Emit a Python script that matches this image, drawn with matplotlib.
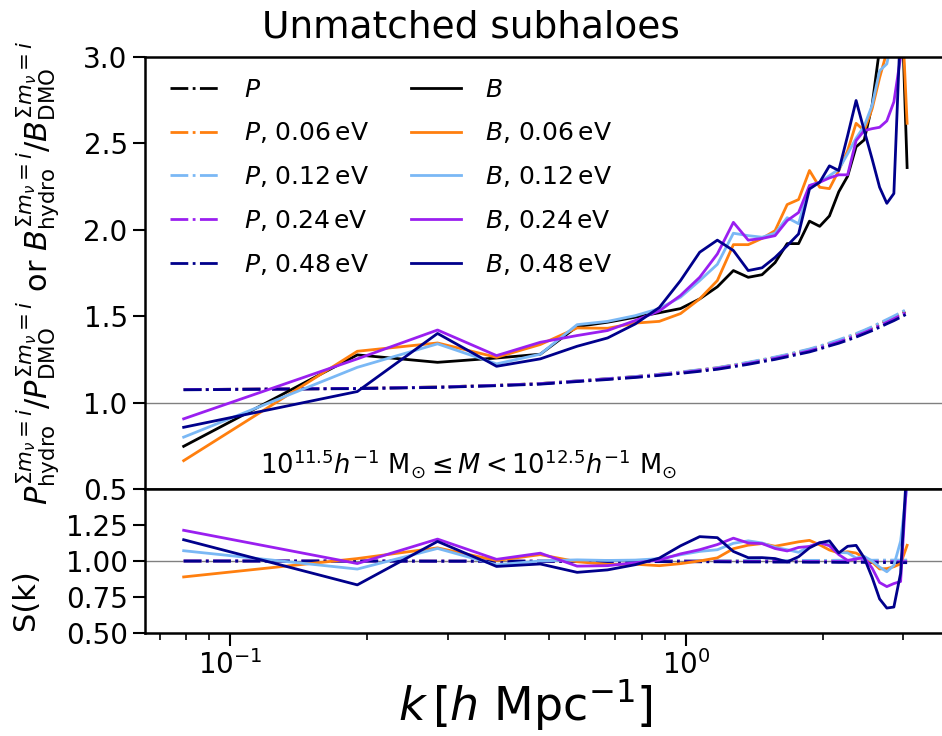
import matplotlib
matplotlib.use("Agg")
import matplotlib.pyplot as plt
import numpy as np

# wavenumbers [h/Mpc]
k = [0.079, 0.19, 0.285, 0.384, 0.479, 0.577, 0.673, 0.774, 0.874, 0.973,
     1.072, 1.172, 1.271, 1.370, 1.469, 1.569, 1.668, 1.767, 1.867, 1.966,
     2.065, 2.165, 2.264, 2.363, 2.462, 2.562, 2.661, 2.760, 2.860, 2.959,
     3.058]

# hydro/DMO power spectrum ratio, massless case
P_base = [1.075, 1.082, 1.090, 1.100, 1.110, 1.125, 1.138, 1.150, 1.163, 1.175,
          1.188, 1.200, 1.216, 1.230, 1.245, 1.260, 1.275, 1.290, 1.305, 1.322,
          1.340, 1.357, 1.375, 1.393, 1.412, 1.432, 1.452, 1.472, 1.492, 1.512,
          1.532]

# P ratio for massive neutrinos relative to massless case
PR_006 = [1.000, 1.000, 1.000, 1.000, 1.000, 1.000, 1.000, 1.000, 1.001, 1.001,
          1.001, 1.001, 1.001, 1.001, 1.001, 1.001, 1.001, 1.002, 1.002, 1.002,
          1.002, 1.002, 1.002, 1.002, 1.002, 1.002, 1.002, 1.002, 1.002, 1.002,
          1.002]
PR_012 = [1.000, 1.000, 1.000, 1.000, 1.000, 1.001, 1.001, 1.001, 1.001, 1.002,
          1.002, 1.002, 1.002, 1.003, 1.003, 1.003, 1.003, 1.004, 1.004, 1.004,
          1.004, 1.005, 1.005, 1.005, 1.005, 1.005, 1.006, 1.006, 1.006, 1.006,
          1.006]
PR_024 = [1.000, 1.000, 0.999, 0.999, 0.999, 0.999, 0.999, 0.998, 0.998, 0.998,
          0.998, 0.998, 0.997, 0.997, 0.997, 0.997, 0.997, 0.996, 0.996, 0.996,
          0.996, 0.996, 0.996, 0.996, 0.995, 0.995, 0.995, 0.995, 0.995, 0.995,
          0.995]
PR_048 = [0.999, 0.999, 0.998, 0.998, 0.997, 0.997, 0.996, 0.996, 0.995, 0.995,
          0.994, 0.994, 0.993, 0.993, 0.993, 0.992, 0.992, 0.992, 0.991, 0.991,
          0.991, 0.990, 0.990, 0.990, 0.990, 0.989, 0.989, 0.989, 0.988, 0.988,
          0.988]

# hydro/DMO bispectrum ratio
B_000 = [0.747, 1.276, 1.233, 1.258, 1.280, 1.440, 1.465, 1.494, 1.520, 1.544,
         1.600, 1.670, 1.764, 1.725, 1.740, 1.810, 1.920, 1.920, 2.050, 2.020,
         2.080, 2.220, 2.310, 2.480, 2.520, 2.720, 3.050, 3.200, 3.250, 3.500,
         2.360]
B_006 = [0.664, 1.297, 1.345, 1.262, 1.336, 1.432, 1.430, 1.460, 1.470, 1.515,
         1.600, 1.706, 1.914, 1.914, 1.950, 1.995, 2.146, 2.175, 2.343, 2.246,
         2.238, 2.343, 2.458, 2.616, 2.574, 2.700, 2.880, 3.030, 3.120, 3.430,
         2.616]
B_012 = [0.800, 1.204, 1.340, 1.224, 1.280, 1.451, 1.470, 1.503, 1.544, 1.610,
         1.706, 1.800, 1.980, 1.966, 1.957, 1.980, 2.070, 2.035, 2.256, 2.275,
         2.313, 2.350, 2.440, 2.530, 2.600, 2.720, 2.920, 2.960, 3.150, 3.980,
         3.600]
B_024 = [0.906, 1.253, 1.420, 1.272, 1.349, 1.388, 1.417, 1.475, 1.530, 1.620,
         1.725, 1.860, 2.043, 1.940, 1.950, 1.966, 2.053, 2.100, 2.256, 2.275,
         2.300, 2.318, 2.318, 2.516, 2.574, 2.585, 2.593, 2.630, 2.740, 3.000,
         3.800]
B_048 = [0.857, 1.064, 1.400, 1.210, 1.253, 1.326, 1.374, 1.455, 1.550, 1.706,
         1.870, 1.940, 1.880, 1.764, 1.780, 1.840, 1.908, 1.976, 2.236, 2.275,
         2.370, 2.343, 2.545, 2.748, 2.574, 2.410, 2.246, 2.153, 2.210, 3.200,
         4.000]

masses = ["0.06", "0.12", "0.24", "0.48"]
colors = ["#ff7f0e", "#7ab8f5", "#9a1ff0", "#00008b"]
P_ratios = [PR_006, PR_012, PR_024, PR_048]
B_series = [B_006, B_012, B_024, B_048]

plt.rcParams["axes.linewidth"] = 1.8
plt.rcParams["mathtext.default"] = "regular"

fig = plt.figure(figsize=(9.42, 7.36), dpi=100)
ax1 = fig.add_axes([0.154, 0.3356, 0.849, 0.587])
ax2 = fig.add_axes([0.154, 0.14, 0.849, 0.1957], sharex=ax1)

k = np.array(k)
P_base = np.array(P_base)
B_000 = np.array(B_000)
lw = 2.0

# top panel
p_handles = []
b_handles = []
h, = ax1.plot(k, P_base, color="k", ls="-.", lw=lw, label=r"$\it{P}$")
p_handles.append(h)
for m, c, pr in zip(masses, colors, P_ratios):
    h, = ax1.plot(k, P_base * np.array(pr), color=c, ls="-.", lw=lw,
                  label=r"$\it{P}$, " + m + r"$\,$eV")
    p_handles.append(h)
h, = ax1.plot(k, B_000, color="k", ls="-", lw=lw, label=r"$\it{B}$")
b_handles.append(h)
for m, c, b in zip(masses, colors, B_series):
    h, = ax1.plot(k, b, color=c, ls="-", lw=lw,
                  label=r"$\it{B}$, " + m + r"$\,$eV")
    b_handles.append(h)
ax1.axhline(1.0, color="gray", lw=1, zorder=0)

ax1.set_xscale("log")
ax1.set_xlim(0.065, 3.7)
ax1.set_ylim(0.5, 3.0)
ax1.set_yticks([0.5, 1.0, 1.5, 2.0, 2.5, 3.0])
ax1.tick_params(axis="x", which="both", length=0, labelbottom=False)
ax1.tick_params(axis="y", labelsize=20, length=9, width=1.5)

ax1.legend(handles=p_handles + b_handles, ncol=2, frameon=False, fontsize=18,
           loc="upper left", labelspacing=0.75, columnspacing=1.7,
           handletextpad=0.95, borderaxespad=0.6, bbox_to_anchor=(0.0, 1.01))

ax1.text(0.405, 0.056,
         r"$10^{11.5}\it{h}^{-1}\ \rm{M}_{\odot} \leq \it{M} < 10^{12.5}\it{h}^{-1}\ \rm{M}_{\odot}$",
         transform=ax1.transAxes, ha="center", va="center", fontsize=18.5)

ax1.set_ylabel(r"$\it{P}^{\Sigma \it{m}_\nu = \it{i}}_{\rm hydro}/\it{P}^{\Sigma \it{m}_\nu = \it{i}}_{\rm DMO}$"
               r" or "
               r"$\it{B}^{\Sigma \it{m}_\nu = \it{i}}_{\rm hydro}/\it{B}^{\Sigma \it{m}_\nu = \it{i}}_{\rm DMO}$",
               fontsize=22)
ax1.yaxis.set_label_coords(-0.104, 0.5)

# bottom panel: ratio to massless case
for c, pr in zip(colors, P_ratios):
    ax2.plot(k, np.array(pr), color=c, ls="-.", lw=lw)
for c, b in zip(colors, B_series):
    ax2.plot(k, np.array(b) / B_000, color=c, ls="-", lw=lw)
ax2.axhline(1.0, color="gray", lw=1, zorder=0)

ax2.set_ylim(0.5, 1.5)
ax2.set_yticks([0.5, 0.75, 1.0, 1.25])
ax2.set_yticklabels(["0.50", "0.75", "1.00", "1.25"])
ax2.tick_params(axis="y", labelsize=20, length=9, width=1.5)
ax2.tick_params(axis="x", which="major", labelsize=20, length=9, width=1.5)
ax2.tick_params(axis="x", which="minor", length=5, width=1.2)
ax2.set_ylabel("S(k)", fontsize=22)
ax2.yaxis.set_label_coords(-0.131, 0.23)
ax2.set_xlabel(r"$\it{k}\,[\it{h}\ \rm{Mpc}^{-1}]$", fontsize=33)
ax2.xaxis.set_label_coords(0.475, -0.31)

fig.suptitle("Unmatched subhaloes", fontsize=27, y=0.962, va="center")

fig.savefig("out.png", dpi=100)
